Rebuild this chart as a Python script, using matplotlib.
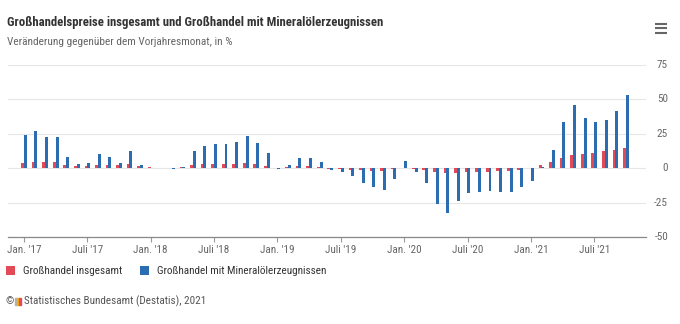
import numpy as np
import matplotlib
matplotlib.use('Agg')
from matplotlib import pyplot as plt, font_manager
from matplotlib.lines import Line2D
from matplotlib.patches import Rectangle
from matplotlib.transforms import blended_transform_factory


# monthly values, Jan 2017 .. Oct 2021, change vs. same month of previous year in %
months = ['2017-%02d' % m for m in range(1, 13)] + \
         ['2018-%02d' % m for m in range(1, 13)] + \
         ['2019-%02d' % m for m in range(1, 13)] + \
         ['2020-%02d' % m for m in range(1, 13)] + \
         ['2021-%02d' % m for m in range(1, 11)]

insgesamt = [3.8, 4.3, 4.3, 4.3, 2.6, 1.9, 1.7, 2.6, 2.6, 2.1, 3.1, 1.9,
             1.1, 0.5, 0.3, 1.0, 2.0, 3.0, 3.1, 3.1, 3.4, 3.8, 3.1, 1.9,
             0.3, 1.2, 1.6, 1.6, 1.2, -0.3, -0.8, -1.1, -1.5, -2.2, -2.0, -0.8,
             0.5, -0.5, -1.2, -3.0, -3.7, -3.3, -2.7, -2.8, -2.6, -2.2, -1.8, -1.0,
             0.0, 2.3, 4.6, 7.1, 9.5, 10.4, 11.1, 12.3, 13.0, 14.9]

mineraloel = [23.8, 27.1, 22.9, 22.4, 8.3, 3.3, 4.0, 10.5, 7.9, 3.6, 12.6, 2.6,
              0.5, 0.3, -0.6, 1.0, 12.6, 16.0, 17.6, 17.6, 19.0, 23.6, 18.1, 10.8,
              -0.4, 2.6, 7.4, 7.4, 4.8, -1.0, -2.9, -5.8, -11.0, -13.8, -16.0, -7.5,
              5.0, -3.0, -10.5, -25.7, -32.5, -23.6, -18.2, -17.0, -16.5, -17.0, -17.5, -13.3,
              -9.2, 0.8, 13.5, 33.3, 45.7, 36.8, 33.5, 35.1, 41.5, 53.2]

tick_months = ['2017-01', '2017-07', '2018-01', '2018-07', '2019-01',
               '2019-07', '2020-01', '2020-07', '2021-01', '2021-07']
tick_labels = ["Jan. '17", "Juli '17", "Jan. '18", "Juli '18", "Jan. '19",
               "Juli '19", "Jan. '20", "Juli '20", "Jan. '21", "Juli '21"]
y_ticks = [-50, -25, 0, 25, 50, 75]

series_labels = ['Großhandel insgesamt', 'Großhandel mit Mineralölerzeugnissen']
colors = ['#e34a57', '#2c6cb0']

title = 'Großhandelspreise insgesamt und Großhandel mit Mineralölerzeugnissen'
subtitle = 'Veränderung gegenüber dem Vorjahresmonat, in %'
credits = 'Statistisches Bundesamt (Destatis), 2021'


def pick_font():
    # prefer a narrow face, the original uses a condensed font
    entries = font_manager.fontManager.ttflist
    names = {f.name for f in entries}
    for name in ['Roboto Condensed', 'Liberation Sans Narrow', 'Noto Sans Condensed',
                 'Open Sans Condensed', 'DejaVu Sans Condensed']:
        if name in names:
            return name, 'normal'
    for f in entries:
        if f.name in ('Noto Sans', 'Open Sans', 'DejaVu Sans') and str(f.stretch) in ('condensed', 'semi-condensed', '75', '87'):
            return f.name, 'condensed'
    return 'Roboto', 'normal'


def main():
    family, stretch = pick_font()
    plt.rcParams['font.family'] = [family, 'DejaVu Sans']
    plt.rcParams['font.stretch'] = stretch

    W, H = 680, 324
    fig = plt.figure(figsize=(W / 100, H / 100), dpi=100)
    fx = lambda px: px / W
    fy = lambda py: 1 - py / H

    # plot area: x 8..645 px, y 65..237 px
    ax = fig.add_axes([fx(8), fy(237), fx(646) - fx(8), fy(65) - fy(237)])

    x = np.arange(len(months))
    bw = 0.28
    ax.bar(x - 0.13, insgesamt, width=bw, color=colors[0], label=series_labels[0], zorder=3)
    ax.bar(x + 0.13, mineraloel, width=bw, color=colors[1], label=series_labels[1], zorder=3)

    ax.set_xlim((8 - 24) / 10.56, (646 - 24) / 10.56)
    ax.set_ylim(-50, 75)

    ax.set_xticks([months.index(m) for m in tick_months])
    ax.set_xticklabels(tick_labels)
    ax.tick_params(axis='x', length=3.6, width=0.8, color='#999999', pad=2.5,
                   labelsize=8, labelcolor='#666666')

    ax.set_yticks(y_ticks)
    ax.set_yticklabels([])
    ax.tick_params(axis='y', length=0)
    ax.grid(axis='y', color='#e6e6e6', linewidth=0.8, zorder=0)

    for side in ['top', 'left', 'right']:
        ax.spines[side].set_visible(False)
    ax.spines['bottom'].set_color('#888888')
    ax.spines['bottom'].set_linewidth(0.9)
    ax.spines['bottom'].set_zorder(4)

    # y labels on the right, right aligned
    trans = blended_transform_factory(fig.transFigure, ax.transData)
    for v in y_ticks:
        ax.text(fx(668), v, str(v), transform=trans, ha='right', va='center',
                fontsize=8, color='#666666')

    fig.text(fx(7), fy(26), title, fontsize=9.2, fontweight='bold', color='#333333',
             va='baseline', ha='left')
    fig.text(fx(7), fy(45), subtitle, fontsize=8.2, color='#666666',
             va='baseline', ha='left')

    # menu icon
    for yy in (23.5, 28, 32.5):
        fig.add_artist(Line2D([fx(655), fx(667)], [fy(yy), fy(yy)], color='#666666',
                              linewidth=1.5, solid_capstyle='butt'))

    handles, labels = ax.get_legend_handles_labels()
    fig.legend(handles, labels, loc='center left', bbox_to_anchor=(fx(6), fy(271)),
               ncol=2, frameon=False, fontsize=8.0, labelcolor='#333333',
               handlelength=0.8, handleheight=0.9, handletextpad=0.75,
               columnspacing=1.6, borderpad=0, borderaxespad=0)

    # credits line with a small logo
    fig.text(fx(6), fy(301), '©', fontsize=7.5, color='#555555', va='center', ha='left')
    for i, c in enumerate(['#b0b0b0', '#f2b700', '#e34a57']):
        fig.add_artist(Rectangle((fx(15 + i * 2.2), fy(305)), fx(2), fy(298) - fy(305),
                                 transform=fig.transFigure, color=c))
    fig.text(fx(24), fy(301), credits, fontsize=8, color='#555555', va='center', ha='left')

    plt.savefig('out.png', dpi=100)
    plt.close()


if __name__ == '__main__':
    main()
